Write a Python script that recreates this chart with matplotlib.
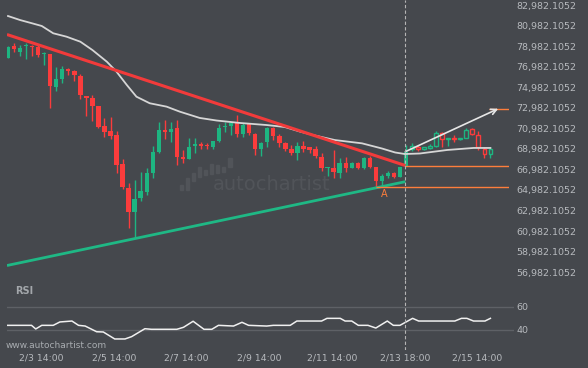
import matplotlib
matplotlib.use('Agg')
import matplotlib.pyplot as plt
from matplotlib.patches import Rectangle

# 4h candles (index 0 = first candle)
opens = [77850, 78990, 78440, 78990, 78990, 78870, 78180, 78210, 75030, 75780,
         76750, 76530, 76070, 74130, 73930, 73150, 71240, 70720, 70330, 67510,
         65140, 62870, 64230, 64810, 66660, 68710, 70820, 70650, 71040, 68190,
         68000, 69260, 69430, 69360, 69130, 69750, 71080, 71210, 71470, 70430,
         71370, 70400, 68940, 69680, 71040, 70230, 69520, 69010, 68610, 69260,
         69130, 68940, 68190, 67150, 67150, 66600, 67640, 67150, 67580, 67090,
         68120, 67250, 65880, 66340, 66600, 66260, 67310, 69010, 69130, 68970,
         69090, 69290, 70500, 69910, 70010, 69910, 70070, 70890, 70330, 69010,
         68450]
highs = [78950, 79310, 79090, 79250, 79090, 79090, 78440, 78210, 76980, 77050,
         76820, 76660, 76240, 74130, 74190, 73150, 71960, 72050, 70750, 67970,
         65630, 65950, 66760, 67090, 69260, 71570, 71790, 71630, 71790, 68870,
         70010, 70010, 69680, 69580, 69750, 71370, 71570, 71630, 72280, 71470,
         71470, 70500, 69680, 71140, 71140, 70400, 69620, 69360, 69680, 69780,
         69190, 69290, 68550, 67250, 68870, 68060, 68220, 67730, 67700, 68220,
         68290, 67250, 66510, 66830, 66760, 67250, 69360, 69520, 69360, 69160,
         69430, 70720, 70650, 70010, 70330, 70070, 70980, 70980, 70720, 69130,
         69130]
lows = [77830, 78410, 78020, 77700, 78020, 77950, 77140, 72930, 74610, 75420,
        76170, 75620, 73800, 72180, 71720, 70980, 70170, 69910, 66600, 65080,
        61250, 60310, 63910, 64490, 66120, 68550, 69910, 69680, 67410, 67580,
        67990, 68550, 68940, 68970, 69010, 69680, 70650, 70330, 70170, 70170,
        70330, 68380, 68320, 69190, 69840, 69190, 68800, 68380, 67900, 68650,
        68550, 68060, 66830, 66370, 66120, 66120, 66760, 67090, 67020, 67020,
        67120, 65200, 65370, 66120, 66120, 66200, 67310, 68770, 68770, 68870,
        69000, 69190, 69190, 69290, 69620, 69840, 70010, 70330, 68870, 68060,
        68120]
closes = [78920, 78670, 78770, 79060, 78920, 78120, 78280, 75130, 75780, 76750,
          76530, 76170, 74250, 73960, 73180, 71140, 70650, 70260, 67410, 65300,
          62870, 64100, 64880, 66600, 68680, 70820, 70650, 70910, 68220, 68000,
          69190, 69430, 69290, 69230, 69750, 71040, 71210, 71470, 70400, 71300,
          70550, 68940, 69580, 71040, 70230, 69580, 69010, 68610, 69290, 68940,
          68870, 68320, 67090, 67250, 66700, 67640, 67090, 67640, 67150, 68120,
          67250, 65880, 66340, 66660, 66260, 67250, 68710, 69260, 69010, 69130,
          69290, 70500, 69910, 70010, 69910, 70070, 70820, 70430, 69130, 68450,
          68970]
hollow_from = 67

# moving average (read points)
ma_idx = [0, 2, 4, 5.6, 7.5, 9.7, 12, 14, 16.4, 18, 19.7, 21.3, 23.5, 26.3, 28.5,
          31.8, 34.6, 38.5, 42.9, 45.9, 48.4, 50.9, 54.2, 58.7, 62, 64.2, 65.8,
          68.3, 72.8, 77.2, 80]
ma_val = [81910, 81520, 81200, 80940, 80230, 79900, 79410, 78600, 77460, 76490,
          75200, 74060, 73420, 73090, 72600, 71990, 71740, 71500, 71300, 71110,
          70670, 70280, 69840, 69520, 69020, 68630, 68480, 68530, 68870, 69070,
          69070]

# RSI
rsi_idx = [-0.2, 3.9, 4.6, 5.6, 7.5, 8.6, 10.6, 11.7, 12.8, 14.7, 15.8, 17.7,
           19.4, 20.5, 22.7, 23.8, 28, 29.1, 30.7, 32.5, 33.8, 34.9, 37.4, 38.8,
           39.9, 42.9, 44, 46.8, 47.9, 52, 52.9, 55.1, 55.9, 57, 58.1, 59.7, 61,
           62.9, 63.9, 65, 67.1, 68.1, 74.1, 75.2, 76.1, 77.2, 79.1, 80]
rsi_val = [44.0, 44.0, 40.9, 44.0, 44.0, 46.9, 47.7, 44.0, 43.4, 38.5, 38.3, 32.3,
           32.3, 34.3, 41.1, 40.6, 40.6, 42.3, 47.5, 40.6, 40.6, 44.0, 43.4, 46.6,
           44.0, 43.4, 44.0, 44.0, 47.7, 47.7, 50.0, 50.0, 47.7, 47.7, 44.0, 44.0,
           41.7, 47.7, 44.0, 44.0, 50.0, 47.7, 47.7, 50.0, 50.0, 47.7, 47.7, 50.0]

# pattern lines
break_idx = 65.9
res_x = [-0.17, break_idx]
res_y = [80110, 67360]
sup_x = [-0.17, break_idx]
sup_y = [57630, 65790]
upper_level = 67290
lower_level = 65240
lower_start = 61
target_level = 72900
target_start = 79.8
arrow_from = (break_idx, 68710)
arrow_to = (81.3, 72890)
point_a = (62.4, 64590)

y_ticks = [56982.1052 + 2000 * k for k in range(14)]
x_tick_pos = [5.5, 17.6, 29.5, 41.6, 53.7, 65.8, 77.8]
x_tick_labels = ['2/3 14:00', '2/5 14:00', '2/7 14:00', '2/9 14:00',
                 '2/11 14:00', '2/13 18:00', '2/15 14:00']

bg = '#45484d'
green = '#1db581'
red = '#fb3c3c'
orange = '#fd7e3c'
txt = '#b7babe'
wm = '#515459'

W, H = 588, 368
fig = plt.figure(figsize=(W / 100, H / 100), dpi=100, facecolor=bg)
ax = fig.add_axes([7 / W, 1 - 280 / H, 502 / W, 280 / H], facecolor=bg)
rax = fig.add_axes([7 / W, 1 - 350 / H, 507 / W, 70 / H], facecolor=bg)

step = 6.03
ax.set_xlim(-1 / step, 501 / step)
rax.set_xlim(-1 / step, 506 / step)
ax.set_ylim(56219, 83469)
rax.set_ylim(22.83, 82.92)

for a in (ax, rax):
    for s in a.spines.values():
        s.set_visible(False)

# watermark
ax.text(213 / W, 1 - 190 / H, 'autochartist', transform=fig.transFigure,
        fontsize=14, color=wm, va='baseline', zorder=0.5)
logo = [(181.7, 185, 189.5), (187.5, 178.3, 189.5), (193.3, 173.3, 181),
        (199.3, 167.3, 176.7), (205.3, 170, 175), (211.3, 164.3, 174.3),
        (217.3, 165, 173.3), (223.3, 166.7, 171.7), (230, 158.3, 166.7)]
for lx, ly0, ly1 in logo:
    ax.add_patch(Rectangle(((lx - 1.7) / W, 1 - ly1 / H), 3.4 / W, (ly1 - ly0) / H,
                           transform=fig.transFigure, color=wm, zorder=0.5))

# candles
for i in range(len(opens)):
    o, h, l, c = opens[i], highs[i], lows[i], closes[i]
    col = green if c >= o else red
    ax.vlines(i, l, h, color=col, lw=1, zorder=2)
    bottom = min(o, c)
    height = max(abs(c - o), 100)
    if i >= hollow_from:
        ax.bar(i, height, 0.62, bottom, facecolor=bg, edgecolor=col, lw=1, zorder=3)
    else:
        ax.bar(i, height, 0.72, bottom, color=col, lw=0, zorder=3)

ax.plot(ma_idx, ma_val, color='#d6d6d6', lw=1.3, zorder=4)
ax.plot(res_x, res_y, color='#f23b3b', lw=2.2, zorder=5, solid_capstyle='butt')
ax.plot(sup_x, sup_y, color='#1fb885', lw=2.0, zorder=5, solid_capstyle='butt')

xmax = ax.get_xlim()[1]
ax.hlines(upper_level, break_idx, xmax, color=orange, lw=1, zorder=5)
ax.hlines(lower_level, lower_start, xmax, color=orange, lw=1, zorder=5)
ax.hlines(target_level, target_start, xmax, color=orange, lw=1, zorder=5)
ax.annotate('', xy=arrow_to, xytext=arrow_from,
            arrowprops=dict(arrowstyle='->', color='#e6e6e6', lw=1.2,
                            mutation_scale=10, shrinkA=0, shrinkB=0), zorder=6)
ax.text(point_a[0], point_a[1], 'A', color=orange, fontsize=7,
        ha='center', va='center', zorder=6)

ax.axvline(break_idx, color='#b5b5b5', lw=0.8, ls=(0, (3, 2)), zorder=6)
rax.axvline(break_idx, color='#b5b5b5', lw=0.8, ls=(0, (3, 2)), zorder=6)

ax.set_xticks([])
ax.yaxis.tick_right()
ax.set_yticks(y_ticks)
ax.set_yticklabels(['{:,.4f}'.format(v) for v in y_ticks])
ax.tick_params(axis='y', length=0, pad=5.5, labelsize=6.8, labelcolor=txt)

# RSI panel
for lvl in (40, 60):
    rax.axhline(lvl, color='#5e6166', lw=1, zorder=1)
rax.plot(rsi_idx, rsi_val, color='#f0f0f0', lw=1.1, zorder=3)
rax.yaxis.tick_right()
rax.set_yticks([40, 60])
rax.tick_params(axis='y', length=0, pad=2, labelsize=6.8, labelcolor=txt)
rax.set_xticks(x_tick_pos)
rax.set_xticklabels(x_tick_labels)
rax.tick_params(axis='x', length=0, pad=2.5, labelsize=6.7, labelcolor=txt)

fig.text(15 / W, 1 - 291.3 / H, 'RSI', fontsize=7, fontweight='bold',
         color='#a3a7ab', va='center')
fig.text(6 / W, 1 - 345 / H, 'www.autochartist.com', fontsize=6.5,
         color='#a8acb0', va='center')

fig.savefig('out.png', dpi=100, facecolor=bg)
